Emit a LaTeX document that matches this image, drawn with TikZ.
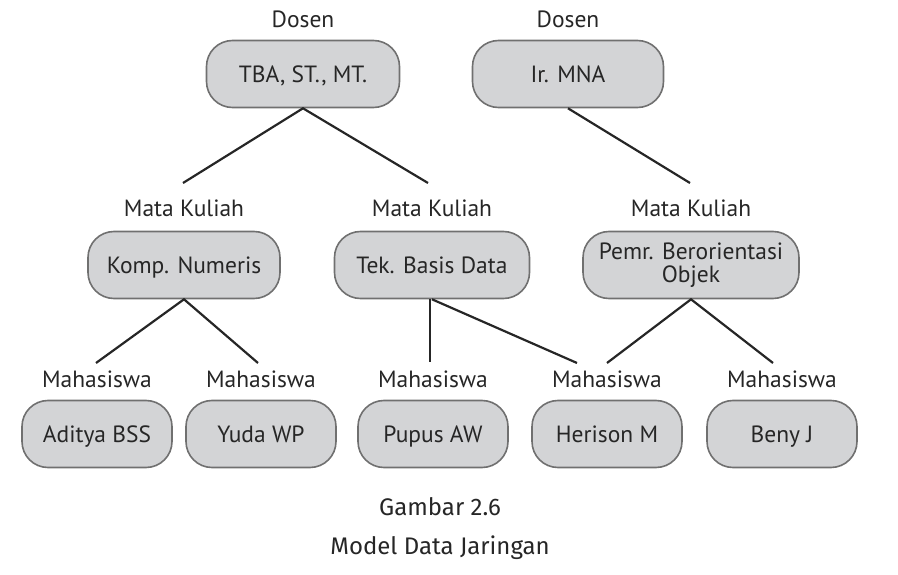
\documentclass[tikz,border=0pt]{standalone}
\usepackage{fontspec}
\setmainfont{PT Sans}
\newfontfamily\capfont{Fira Sans}
\usetikzlibrary{positioning}
\definecolor{BoxFill}{HTML}{D3D4D6}
\definecolor{BoxLine}{HTML}{707070}
\definecolor{InkDark}{HTML}{262626}
\tikzset{
  entbox/.style={draw=BoxLine, line width=1.6pt, fill=BoxFill, rounded corners=26pt,
    align=center, minimum height=67pt, inner sep=2pt, text=InkDark,
    font=\fontsize{23.5}{22.5}\selectfont},
  onebox/.style={entbox, text height=16.5pt, text depth=0pt},
  rolelbl/.style={inner sep=0pt, text=InkDark, font=\fontsize{23.5}{24}\selectfont},
  capline/.style={inner sep=0pt, text=InkDark, font=\capfont\fontsize{24}{24}\selectfont},
  link/.style={draw=InkDark, line width=2.2pt},
}

\begin{document}
\begin{tikzpicture}[x=1pt, y=-1pt, node distance=12pt]
    \useasboundingbox (0,0) rectangle (898,575);
    % dosen
    \node[onebox, minimum width=193pt] (tba) at (303,74) {TBA, ST., MT.};
    \node[onebox, minimum width=191pt] (mna) at (568,74) {Ir. MNA};
    \node[rolelbl, above=of tba] (ds1) {Dosen};
    \node[rolelbl, above=of mna] (ds2) {Dosen};
    % mata kuliah
    \node[onebox, minimum width=192pt] (komp) at (184,265) {Komp. Numeris};
    \node[onebox, minimum width=195pt] (tek) at (432,265) {Tek. Basis Data};
    \node[entbox, minimum width=216pt] (pemr) at (691,265) {Pemr. Berorientasi\\Objek};
    \node[rolelbl, above=14pt of komp] (mk1) {Mata Kuliah};
    \node[rolelbl, above=14pt of tek] (mk2) {Mata Kuliah};
    \node[rolelbl, above=14pt of pemr] (mk3) {Mata Kuliah};
    % mahasiswa
    \node[onebox, minimum width=150pt] (adit) at (97,434) {Aditya BSS};
    \node[onebox, minimum width=150pt] (yuda) at (261,434) {Yuda WP};
    \node[onebox, minimum width=150pt] (pupus) at (433,434) {Pupus AW};
    \node[onebox, minimum width=150pt] (heri) at (607,434) {Herison M};
    \node[onebox, minimum width=150pt] (beny) at (782,434) {Beny J};
    \node[rolelbl, above=of adit] (mh1) {Mahasiswa};
    \node[rolelbl, above=of yuda] (mh2) {Mahasiswa};
    \node[rolelbl, above=of pupus] (mh3) {Mahasiswa};
    \node[rolelbl, above=of heri] (mh4) {Mahasiswa};
    \node[rolelbl, above=of beny] (mh5) {Mahasiswa};
    % free line ends above the labels
    \coordinate (mk1end) at (183,183);
    \coordinate (mk2end) at (428,183);
    \coordinate (mk3end) at (690,183);
    \coordinate (mh1end) at (96,363);
    \coordinate (mh2end) at (258,363);
    \coordinate (mh3end) at (430,362);
    \coordinate (mh4enda) at (577,363);
    \coordinate (mh4endb) at (607,363);
    \coordinate (mh5end) at (773,363);
    \draw[link] (mk1end) -- (tba.south) -- (mk2end);
    \draw[link] (mna.south) -- (mk3end);
    \draw[link] (mh1end) -- (komp.south) -- (mh2end);
    \draw[link] (tek.south -| mh3end) -- (mh3end);
    \draw[link] (tek.south) -- (mh4enda);
    \draw[link] (mh4endb) -- (pemr.south) -- (mh5end);
    % caption
    \node[capline] (fig) at (440,507) {Gambar 2.6};
    \node[capline] (title) at (440,548) {Model Data Jaringan};
  \end{tikzpicture}
\end{document}
